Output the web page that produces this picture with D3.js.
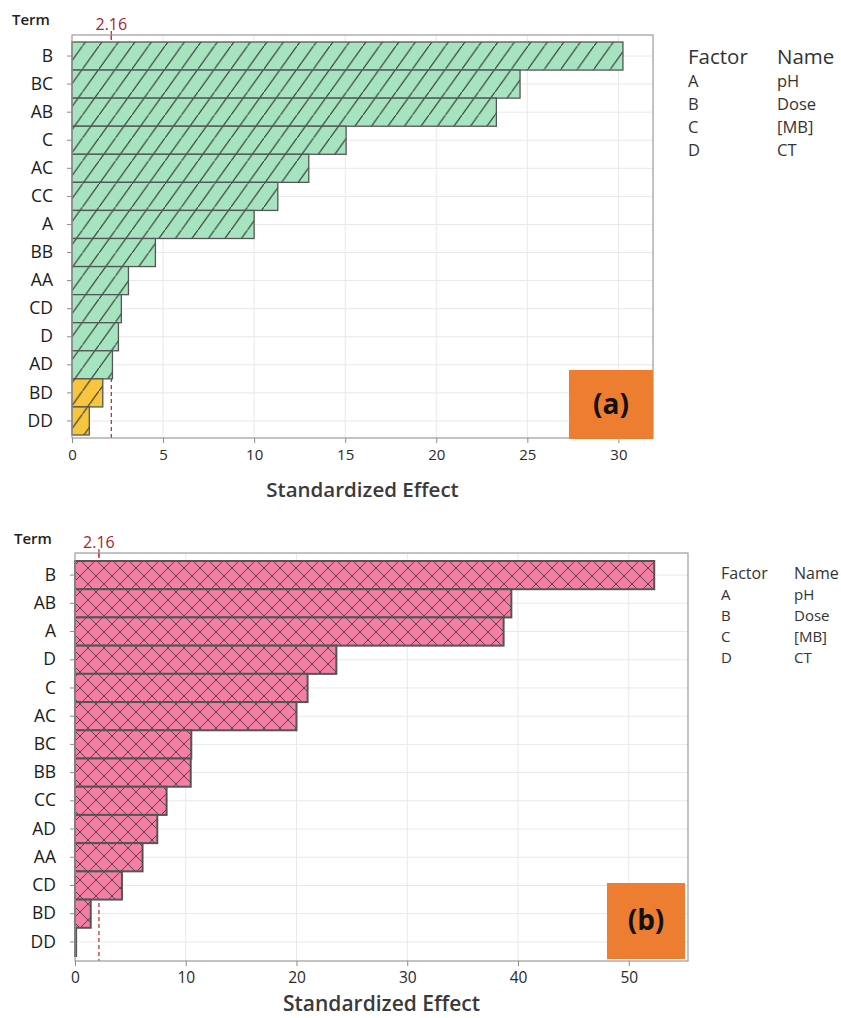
<!DOCTYPE html>
<html>
<head>
<meta charset="utf-8">
<script src="https://cdn.jsdelivr.net/npm/d3@7"></script>
<style>
  body { margin: 0; background: #fff; }
  svg { display: block; font-family: "Open Sans", "Noto Sans", sans-serif; }
</style>
</head>
<body>
<svg id="chart"></svg>
<script>
// pareto of standardized effects, two models
const termsA = ['B', 'BC', 'AB', 'C', 'AC', 'CC', 'A', 'BB', 'AA', 'CD', 'D', 'AD', 'BD', 'DD'];
const effectsA = [30.25, 24.6, 23.3, 15.05, 13.0, 11.3, 10.0, 4.58, 3.1, 2.71, 2.55, 2.22, 1.69, 0.95];

const termsB = ['B', 'AB', 'A', 'D', 'C', 'AC', 'BC', 'BB', 'CC', 'AD', 'AA', 'CD', 'BD', 'DD'];
const effectsB = [52.3, 39.4, 38.7, 23.6, 21.0, 20.0, 10.5, 10.45, 8.27, 7.43, 6.1, 4.24, 1.42, 0.1];

const ticksA = [0, 5, 10, 15, 20, 25, 30];
const ticksB = [0, 10, 20, 30, 40, 50];

const factorCodes = ['A', 'B', 'C', 'D'];
const factorNames = ['pH', 'Dose', '[MB]', 'CT'];

const critical = 2.16;

const size = {w: 841, h: 1018};
const svg = d3.select('svg#chart')
    .attr('width', size.w)
    .attr('height', size.h);

const defs = svg.append('defs');

// single hatch for the top chart
function hatchPattern(id, fill) {
    let p = defs.append('pattern')
        .attr('id', id)
        .attr('patternUnits', 'userSpaceOnUse')
        .attr('width', 16.5)
        .attr('height', 23);
    p.append('rect').attr('width', 16.5).attr('height', 23).attr('fill', fill);
    p.append('path')
        .attr('d', 'M-2,25.8 L18.5,-2.8')
        .attr('stroke', '#3d3d3d')
        .attr('stroke-width', 1.2);
}
hatchPattern('hatchGreen', '#a6e4bf');
hatchPattern('hatchYellow', '#f8c63c');

// cross hatch for the bottom chart
let cross = defs.append('pattern')
    .attr('id', 'crossPink')
    .attr('patternUnits', 'userSpaceOnUse')
    .attr('width', 16)
    .attr('height', 16);
cross.append('rect').attr('width', 16).attr('height', 16).attr('fill', '#f57fa4');
cross.append('path')
    .attr('d', 'M-2,-2 L18,18 M18,-2 L-2,18')
    .attr('stroke', '#5a4048')
    .attr('stroke-width', 1);

function drawPareto(cfg) {
    const g = svg.append('g');

    let x = d3.scaleLinear()
        .domain([0, cfg.xMax])
        .range([cfg.left, cfg.right]);

    let y = d3.scaleBand()
        .domain(cfg.terms)
        .range([cfg.barTop, cfg.barBottom])
        .padding(0);

    // grid
    g.append('g')
        .selectAll('line')
        .data(cfg.ticks.filter(d => d > 0))
        .join('line')
        .attr('x1', d => x(d)).attr('x2', d => x(d))
        .attr('y1', cfg.top).attr('y2', cfg.bottom)
        .attr('stroke', '#e9e9e9');

    g.append('g')
        .selectAll('line')
        .data(cfg.terms)
        .join('line')
        .attr('x1', cfg.left).attr('x2', cfg.right)
        .attr('y1', d => y(d) + y.bandwidth() / 2)
        .attr('y2', d => y(d) + y.bandwidth() / 2)
        .attr('stroke', '#e9e9e9');

    // reference line at critical value
    g.append('line')
        .attr('x1', x(critical)).attr('x2', x(critical))
        .attr('y1', cfg.top).attr('y2', cfg.bottom)
        .attr('stroke', '#c8303a')
        .attr('stroke-width', 1.3)
        .attr('stroke-dasharray', '4,3');

    g.append('line')
        .attr('x1', x(critical)).attr('x2', x(critical))
        .attr('y1', cfg.top - 4).attr('y2', cfg.top + 5)
        .attr('stroke', '#c8303a')
        .attr('stroke-width', 1.3);

    g.append('text')
        .attr('x', x(critical))
        .attr('y', cfg.top - 5)
        .attr('text-anchor', 'middle')
        .attr('font-size', 16)
        .attr('font-weight', 500)
        .attr('fill', '#a8232b')
        .text(critical.toFixed(2));

    // bars
    g.append('g')
        .selectAll('rect')
        .data(cfg.terms)
        .join('rect')
        .attr('x', x(0))
        .attr('y', d => y(d))
        .attr('width', (d, i) => x(cfg.values[i]) - x(0))
        .attr('height', y.bandwidth())
        .attr('fill', (d, i) => cfg.fill(cfg.values[i]))
        .attr('stroke', '#555')
        .attr('stroke-width', cfg.barStroke);

    // frame
    g.append('rect')
        .attr('x', cfg.left).attr('y', cfg.top)
        .attr('width', cfg.right - cfg.left)
        .attr('height', cfg.bottom - cfg.top)
        .attr('fill', 'none')
        .attr('stroke', '#9c9c9c')
        .attr('stroke-width', 1.2);

    // x axis
    let xAxis = g.append('g')
        .attr('transform', `translate(0, ${cfg.bottom})`)
        .call(d3.axisBottom(x).tickValues(cfg.ticks).tickSize(5).tickPadding(6));
    xAxis.attr('font-size', null).attr('font-family', null);
    xAxis.select('.domain').remove();
    xAxis.selectAll('line').attr('stroke', '#8c8c8c');
    xAxis.selectAll('text')
        .style('font-size', cfg.tickFont + 'px')
        .style('font-weight', 500)
        .attr('fill', '#2a2a2a');

    // y axis
    let yAxis = g.append('g')
        .attr('transform', `translate(${cfg.left}, 0)`)
        .call(d3.axisLeft(y).tickSize(5).tickPadding(14));
    yAxis.attr('font-size', null).attr('font-family', null);
    yAxis.select('.domain').remove();
    yAxis.selectAll('line').attr('stroke', '#8c8c8c');
    yAxis.selectAll('text')
        .style('font-size', '17.5px')
        .style('font-weight', 500)
        .attr('fill', '#1a1a1a');

    g.append('text')
        .attr('x', cfg.termX)
        .attr('y', cfg.termY)
        .attr('font-size', 15)
        .attr('font-weight', 600)
        .attr('fill', '#222')
        .text('Term');

    g.append('text')
        .attr('x', (cfg.left + cfg.right) / 2)
        .attr('y', cfg.titleY)
        .attr('text-anchor', 'middle')
        .attr('font-size', cfg.titleFont)
        .attr('font-weight', 600)
        .attr('fill', '#3a3a3a')
        .text('Standardized Effect');

    // panel tag
    g.append('rect')
        .attr('x', cfg.tag.x).attr('y', cfg.tag.y)
        .attr('width', cfg.tag.w).attr('height', cfg.tag.h)
        .attr('fill', '#ed7d31');
    g.append('text')
        .attr('x', cfg.tag.x + cfg.tag.w / 2)
        .attr('y', cfg.tag.y + cfg.tag.h / 2 + 9)
        .attr('text-anchor', 'middle')
        .attr('font-size', 28)
        .attr('font-weight', 700)
        .attr('fill', '#111')
        .text(cfg.tag.label);

    // factor legend
    let leg = g.append('g');
    leg.append('text')
        .attr('x', cfg.legend.x1).attr('y', cfg.legend.y)
        .attr('font-size', cfg.legend.headFont)
        .attr('fill', '#333')
        .text('Factor');
    leg.append('text')
        .attr('x', cfg.legend.x2).attr('y', cfg.legend.y)
        .attr('font-size', cfg.legend.headFont)
        .attr('fill', '#333')
        .text('Name');
    leg.selectAll('text.code')
        .data(factorCodes)
        .join('text')
        .classed('code', true)
        .attr('x', cfg.legend.x1)
        .attr('y', (d, i) => cfg.legend.y + cfg.legend.step * (i + 1))
        .attr('font-size', cfg.legend.rowFont)
        .attr('fill', '#333')
        .text(d => d);
    leg.selectAll('text.name')
        .data(factorNames)
        .join('text')
        .classed('name', true)
        .attr('x', cfg.legend.x2)
        .attr('y', (d, i) => cfg.legend.y + cfg.legend.step * (i + 1))
        .attr('font-size', cfg.legend.rowFont)
        .attr('fill', '#333')
        .text(d => d);
}

drawPareto({
    terms: termsA, values: effectsA, ticks: ticksA,
    xMax: 31.9, left: 72, right: 653,
    top: 35, bottom: 438, barTop: 42, barBottom: 435,
    fill: v => v >= critical ? 'url(#hatchGreen)' : 'url(#hatchYellow)',
    barStroke: 1.3, tickFont: 15, titleFont: 20.5, titleY: 497,
    termX: 12, termY: 25,
    tag: {x: 569, y: 370, w: 84, h: 69, label: '(a)'},
    legend: {x1: 688, x2: 777, y: 64, step: 23, headFont: 20.5, rowFont: 16.5}
});

drawPareto({
    terms: termsB, values: effectsB, ticks: ticksB,
    xMax: 55.35, left: 75, right: 688,
    top: 553, bottom: 961, barTop: 561, barBottom: 956,
    fill: () => 'url(#crossPink)',
    barStroke: 2, tickFont: 15.5, titleFont: 21, titleY: 1011,
    termX: 14, termY: 544,
    tag: {x: 607, y: 883, w: 78, h: 76, label: '(b)'},
    legend: {x1: 721, x2: 794, y: 579, step: 21, headFont: 16, rowFont: 15}
});
</script>
</body>
</html>
